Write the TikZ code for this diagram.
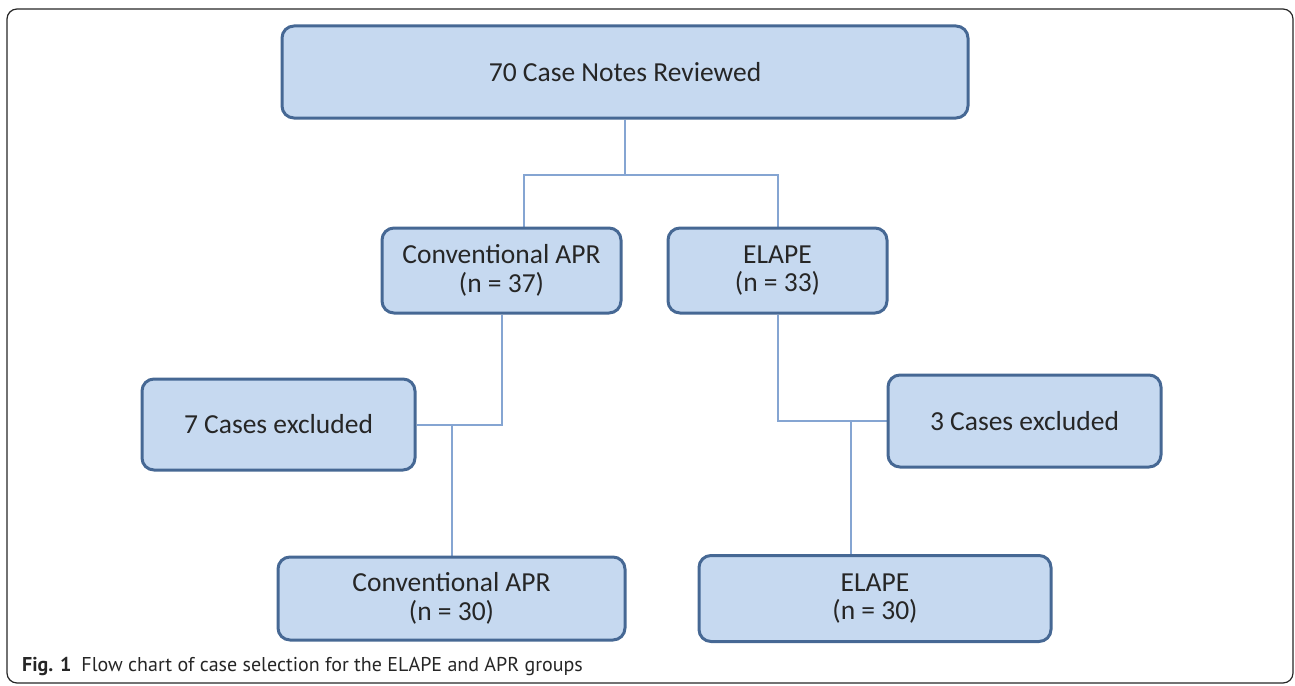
\documentclass[tikz,border=0pt]{standalone}
\usepackage{fontspec}
\setmainfont{Carlito}
\newfontfamily\captionfont{PT Sans}
\usetikzlibrary{positioning,backgrounds}
\definecolor{boxfill}{RGB}{198,217,240}
\definecolor{boxdraw}{RGB}{70,104,148}
\definecolor{linkblue}{RGB}{133,165,210}
\definecolor{textgray}{RGB}{38,38,38}

\begin{document}
\begin{tikzpicture}
  [x=1pt,y=1pt,on grid,
   box/.style={rectangle,rounded corners=12pt,line width=3pt,draw=boxdraw,fill=boxfill,
     text=textgray,align=center,inner sep=0pt,font=\fontsize{27.5}{28.5}\selectfont},
   link/.style={draw=linkblue,line width=2pt}]

  \useasboundingbox (0,0) rectangle (1295,-685);
  \draw [rounded corners=10pt,line width=1.2pt,draw=black!85] (7,-9) rectangle (1293,-683);

  % selection boxes
  \node [box,minimum width=686pt,minimum height=92pt] (notes) at (625,-72) {70 Case Notes Reviewed};
  \node [box,minimum width=239pt,minimum height=85pt] (apr)
        [below left=198.5pt and 123.5pt of notes]  {Conventional APR\\(n = 37)};
  \node [box,minimum width=219pt,minimum height=85pt] (elape)
        [right=276pt of apr]                       {ELAPE\\(n = 33)};
  \node [box,minimum width=273pt,minimum height=91pt] (aprout)
        [below left=154pt and 223pt of apr]        {7 Cases excluded};
  \node [box,minimum width=273pt,minimum height=92pt] (elapeout)
        [below right=150.5pt and 247pt of elape]   {3 Cases excluded};
  \node [box,minimum width=347pt,minimum height=83pt] (aprfinal)
        [below right=174pt and 173pt of aprout]    {Conventional APR\\(n = 30)};
  \node [box,minimum width=352pt,minimum height=86pt] (elapefinal)
        [right=423.5pt of aprfinal]                {ELAPE\\(n = 30)};

  \node [anchor=base west,inner sep=0pt,text=black!85,
         font=\captionfont\fontsize{20}{23}\selectfont] (caption) at (22,-671)
        {\textbf{Fig. 1}\hspace{0.5em}Flow chart of case selection for the ELAPE and APR groups};

  \begin{scope}[on background layer]
    % connectors
    \draw [link] (notes.south) -- ++(0,-55) coordinate (fork);
    \draw [link] ([xshift=22.5pt]apr.north) |- (fork) -| (elape.north);
    \draw [link] (apr.south) |- (aprout.east);
    \draw [link] (aprfinal.north) -- (aprfinal.north |- aprout.east);
    \draw [link] (elape.south) |- (elapeout.west);
    \draw [link] ([xshift=-24pt]elapefinal.north) -- ([xshift=-24pt]elapefinal.north |- elapeout.west);
  \end{scope}
\end{tikzpicture}
\end{document}
